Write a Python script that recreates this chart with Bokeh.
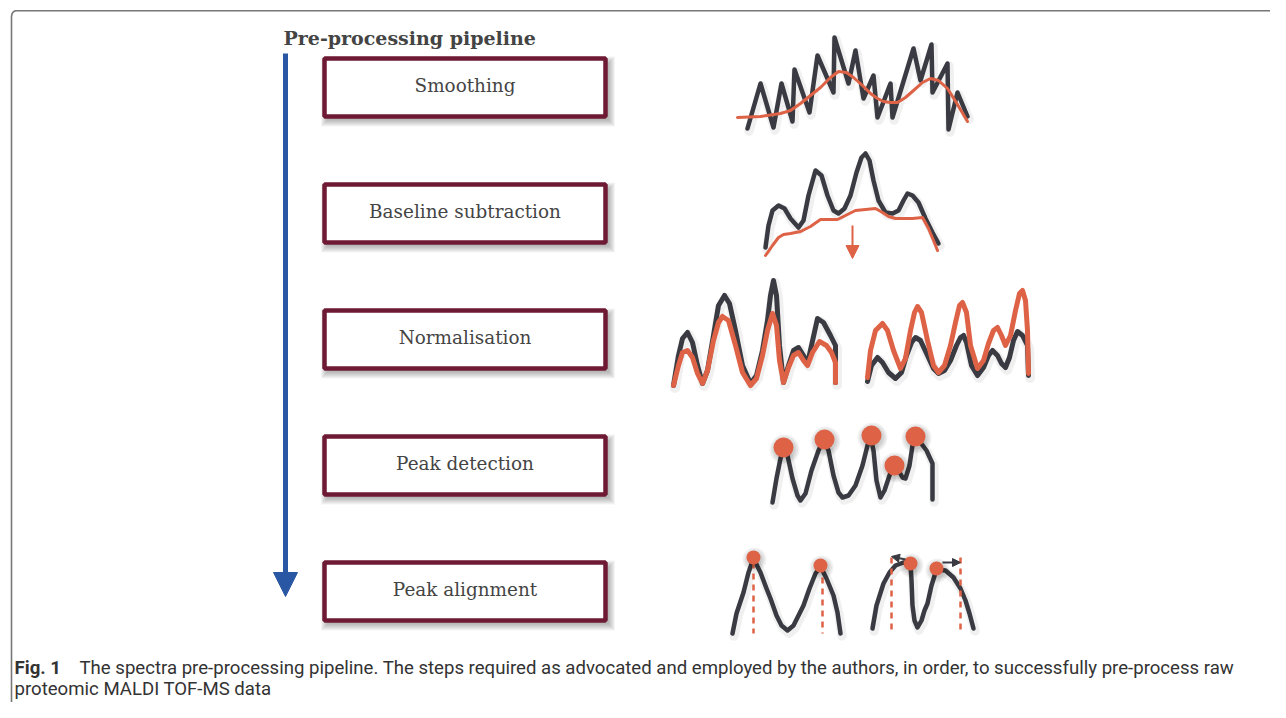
from bokeh.plotting import figure
from bokeh.models import Range1d, Arrow, NormalHead
from bokeh.core.properties import value
from bokeh.embed import file_html
from bokeh.resources import INLINE

# ---------------- data ----------------
steps = ["Smoothing", "Baseline subtraction", "Normalisation", "Peak detection", "Peak alignment"]
step_y = [87, 213, 339, 465, 591]
title = "Pre-processing pipeline"
caption_bold = "Fig. 1"
caption_1 = "The spectra pre-processing pipeline. The steps required as advocated and employed by the authors, in order, to successfully pre-process raw"
caption_2 = "proteomic MALDI TOF-MS data"

# Smoothing: raw noisy spectrum and smoothed spectrum
smooth_raw_x = [747, 760, 773, 781, 792, 794, 809, 817, 833, 834, 848, 855, 863, 873, 877, 890, 892, 913, 920, 931, 932, 947, 948, 957, 967]
smooth_raw_y = [128, 83, 127, 83, 121, 69, 112, 55, 92, 37, 83, 50, 98, 75, 117, 83, 117, 48, 80, 44, 92, 63, 129, 92, 116]
smooth_fit_x = [737, 760, 780, 790, 800, 810, 820, 830, 838, 846, 853, 862, 870, 877, 883, 890, 897, 905, 913, 922, 930, 938, 947, 957, 967]
smooth_fit_y = [117, 116, 113, 110, 103, 95, 87, 77, 71, 72, 77, 85, 93, 98, 101, 102, 102, 97, 90, 82, 78, 80, 88, 104, 121]

# Baseline subtraction: spectrum and estimated baseline
base_spec_x = [765, 768, 772, 778, 784, 790, 798, 803, 808, 815, 821, 827, 833, 838, 844, 850, 856, 861, 865, 869, 873, 878, 885, 892, 898, 903, 907, 912, 918, 925, 932, 938]
base_spec_y = [247, 225, 210, 205, 208, 218, 227, 220, 195, 170, 175, 195, 210, 213, 208, 195, 172, 157, 153, 160, 180, 200, 212, 213, 210, 200, 193, 195, 202, 218, 232, 243]
base_line_x = [765, 772, 778, 783, 790, 800, 810, 820, 830, 837, 845, 855, 865, 875, 882, 888, 895, 903, 912, 922, 928, 933, 937]
base_line_y = [255, 245, 237, 234, 233, 231, 226, 219, 219, 219, 215, 210, 209, 208, 212, 216, 218, 218, 218, 217, 228, 240, 250]
base_arrow = [852, 225, 852, 258]

# Normalisation: two panels, dark = spectrum A, red = spectrum B
norm_l_dark_x = [673, 678, 682, 687, 692, 697, 702, 707, 713, 718, 724, 729, 735, 742, 750, 756, 762, 767, 770, 773, 776, 779, 783, 788, 793, 798, 803, 807, 811, 817, 823, 830, 835, 835]
norm_l_dark_y = [385, 355, 338, 332, 342, 365, 383, 370, 335, 305, 295, 303, 330, 365, 383, 375, 350, 320, 295, 280, 295, 345, 382, 365, 350, 347, 355, 363, 345, 318, 322, 335, 345, 382]
norm_l_red_x = [673, 678, 682, 687, 692, 697, 702, 707, 713, 718, 722, 728, 735, 742, 750, 756, 762, 767, 772, 776, 779, 783, 788, 793, 798, 803, 807, 812, 819, 826, 831, 835, 835]
norm_l_red_y = [385, 365, 352, 350, 357, 373, 383, 370, 340, 322, 316, 320, 345, 372, 385, 378, 355, 330, 313, 325, 360, 382, 367, 355, 352, 360, 365, 352, 341, 345, 352, 362, 382]
norm_r_dark_x = [867, 871, 877, 882, 888, 895, 901, 906, 911, 915, 920, 927, 933, 938, 944, 950, 956, 960, 963, 966, 971, 977, 983, 988, 992, 997, 1001, 1005, 1009, 1013, 1017, 1022, 1027, 1028]
norm_r_dark_y = [381, 365, 357, 362, 372, 378, 372, 355, 342, 337, 340, 355, 368, 373, 370, 360, 345, 337, 335, 342, 365, 375, 367, 355, 350, 355, 363, 367, 357, 340, 331, 335, 345, 375]
norm_r_red_x = [867, 870, 875, 882, 887, 893, 900, 905, 910, 914, 917, 921, 927, 933, 938, 944, 950, 955, 959, 962, 966, 970, 977, 983, 988, 993, 997, 1001, 1005, 1010, 1015, 1019, 1022, 1025, 1027, 1028]
norm_r_red_y = [377, 350, 330, 323, 330, 350, 368, 358, 330, 312, 306, 312, 340, 365, 372, 365, 345, 322, 305, 302, 312, 345, 368, 360, 343, 330, 327, 335, 345, 335, 310, 293, 290, 300, 330, 373]

# Peak detection
peak_x = [772, 776, 780, 783, 787, 792, 797, 800, 805, 811, 818, 823, 828, 833, 838, 842, 848, 855, 862, 867, 870, 873, 876, 880, 884, 889, 893, 898, 902, 905, 909, 912, 914, 920, 926, 932, 932]
peak_y = [502, 478, 458, 448, 455, 478, 495, 500, 493, 470, 450, 440, 450, 475, 492, 497, 495, 485, 465, 445, 436, 450, 480, 497, 490, 475, 465, 470, 477, 478, 465, 445, 437, 442, 450, 463, 499]
peak_dot_x = [783, 824, 871, 894, 915]
peak_dot_y = [447, 439, 435, 465, 436]

# Peak alignment
align_l_x = [732, 736, 743, 748, 753, 760, 766, 770, 776, 781, 787, 793, 798, 803, 809, 815, 820, 826, 833, 837, 840]
align_l_y = [633, 613, 592, 572, 558, 572, 588, 598, 615, 625, 630, 625, 615, 605, 588, 573, 566, 578, 595, 612, 633]
align_r_x = [872, 876, 883, 889, 895, 903, 910, 911, 912, 914, 917, 921, 924, 927, 931, 936, 945, 953, 960, 965, 969, 973]
align_r_y = [628, 605, 583, 572, 565, 562, 563, 580, 605, 620, 627, 620, 610, 603, 585, 569, 570, 577, 588, 600, 613, 628]
align_dot_x = [753, 820, 910, 936]
align_dot_y = [557, 565, 563, 568]
align_ref_x = [753, 822, 891, 960]
align_ref_top = [562, 566, 557, 557]
align_ref_bottom = [633, 633, 633, 633]
align_shift_x0 = [905, 942]
align_shift_y0 = [559, 562]
align_shift_x1 = [891, 960]
align_shift_y1 = [556, 562]

# ---------------- styles ----------------
DARK = "#3a3b42"
RED = "#de6245"
MAROON = "#6e1a34"
BLUE = "#2a57a3"

p = figure(width=1270, height=702, x_range=Range1d(0, 1270), y_range=Range1d(702, 0),
           output_backend="svg", toolbar_location=None, min_border=0,
           x_axis_location=None, y_axis_location=None)
p.grid.visible = False
p.outline_line_color = None
p.background_fill_color = "white"

# frame
p.line([11, 11, 11.6, 13, 15, 1270], [702, 16, 13, 11.3, 10.3, 10.3], line_color="#777777", line_width=1.6)

# title
p.text(x=[283], y=[37], text=[title], text_font=value("DejaVu Serif"), text_font_size=value("19px"),
       text_font_style="bold", text_color="#444444", text_align="left", text_baseline="middle")

# blue pipeline arrow
p.add_layout(Arrow(end=NormalHead(size=24, fill_color=BLUE, line_color=BLUE),
                   x_start=285, y_start=53, x_end=285, y_end=596,
                   line_color=BLUE, line_width=5))

# boxes with soft shadows
bx = [464.5] * len(steps)
for k in range(7):
    p.rect(x=[v + 3 for v in bx], y=[v + 4 for v in step_y], width=282 + 2 * k, height=58 + 2 * k,
           fill_color="#000000", fill_alpha=0.045, line_color=None)
p.rect(x=bx, y=step_y, width=281, height=58, fill_color="white", line_color=MAROON, line_width=4.5)
p.text(x=bx, y=[v - 2 for v in step_y], text=steps, text_font=value("DejaVu Serif"),
       text_font_size=value("18.4px"), text_color="#444444", text_align="center", text_baseline="middle")

def curve(xs, ys, color, w):
    p.line([v + 1.5 for v in xs], [v + 2.5 for v in ys], line_color="#000000", line_alpha=0.06,
           line_width=w + 5, line_join="round", line_cap="round")
    p.line(xs, ys, line_color=color, line_width=w, line_join="round", line_cap="round")

# smoothing
curve(smooth_raw_x, smooth_raw_y, DARK, 4.5)
p.line(smooth_fit_x, smooth_fit_y, line_color=RED, line_width=3, line_join="round", line_cap="round")

# baseline
curve(base_spec_x, base_spec_y, DARK, 4.5)
p.line(base_line_x, base_line_y, line_color=RED, line_width=3, line_join="round", line_cap="round")
p.add_layout(Arrow(end=NormalHead(size=13, fill_color=RED, line_color=RED),
                   x_start=base_arrow[0], y_start=base_arrow[1], x_end=base_arrow[2], y_end=base_arrow[3],
                   line_color=RED, line_width=2))

# normalisation
curve(norm_l_dark_x, norm_l_dark_y, DARK, 5)
p.line(norm_l_red_x, norm_l_red_y, line_color=RED, line_width=5, line_join="round", line_cap="round")
curve(norm_r_dark_x, norm_r_dark_y, DARK, 5)
p.line(norm_r_red_x, norm_r_red_y, line_color=RED, line_width=5, line_join="round", line_cap="round")

# peak detection
curve(peak_x, peak_y, DARK, 4.5)
for k in range(4):
    p.scatter(x=[v + 1 for v in peak_dot_x], y=[v + 2 for v in peak_dot_y], size=21 + 3 * k,
              fill_color="#000000", fill_alpha=0.05, line_color=None)
p.scatter(x=peak_dot_x, y=peak_dot_y, size=20, fill_color=RED, line_color=None)

# peak alignment
curve(align_l_x, align_l_y, DARK, 4.5)
curve(align_r_x, align_r_y, DARK, 4.5)
p.segment(x0=align_ref_x, y0=align_ref_top, x1=align_ref_x, y1=align_ref_bottom,
          line_color=RED, line_width=2.5, line_dash="6 5")
for k in range(4):
    p.scatter(x=[v + 1 for v in align_dot_x], y=[v + 2 for v in align_dot_y], size=15 + 3 * k,
              fill_color="#000000", fill_alpha=0.05, line_color=None)
p.scatter(x=align_dot_x, y=align_dot_y, size=14, fill_color=RED, line_color=None)
for i in range(len(align_shift_x0)):
    p.add_layout(Arrow(end=NormalHead(size=8, fill_color=DARK, line_color=DARK),
                       x_start=align_shift_x0[i], y_start=align_shift_y0[i],
                       x_end=align_shift_x1[i], y_end=align_shift_y1[i],
                       line_color=DARK, line_width=1.8))

# caption
p.text(x=[14], y=[667], text=[caption_bold], text_font=value("Roboto"), text_font_size=value("18.6px"),
       text_font_style="bold", text_color="#333333", text_align="left", text_baseline="middle")
p.text(x=[79], y=[667], text=[caption_1], text_font=value("Roboto"), text_font_size=value("18.6px"),
       text_color="#333333", text_align="left", text_baseline="middle")
p.text(x=[14], y=[688], text=[caption_2], text_font=value("Roboto"), text_font_size=value("18.6px"),
       text_color="#333333", text_align="left", text_baseline="middle")

open("out.html", "w").write(file_html(p, INLINE))
